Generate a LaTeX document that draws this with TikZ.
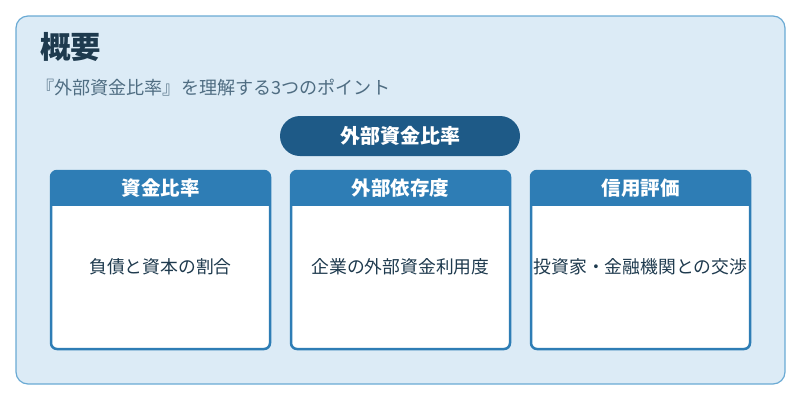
\documentclass[tikz,border=0pt]{standalone}
\usepackage{fontspec}
\setmainfont{Noto Sans CJK JP}
\begin{document}
\begin{tikzpicture}[x=1pt,y=-1pt,
  card/.style={draw=cardblue,line width=2.5pt,fill=white,rounded corners=6pt},
  head/.style={fill=cardblue,rounded corners=6pt},
  htext/.style={text=white,font=\fontsize{19.5}{23}\selectfont\bfseries},
  btext/.style={text=textdark,font=\fontsize{17.8}{21}\selectfont}]
\definecolor{bg}{HTML}{DCEBF6}
\definecolor{bord}{HTML}{6AAAD4}
\definecolor{cardblue}{HTML}{2E7DB5}
\definecolor{pill}{HTML}{1E5A87}
\definecolor{textdark}{HTML}{1E3A4E}
\definecolor{sub}{HTML}{4F6D82}
\useasboundingbox (0,0) rectangle (800,400);
\draw[fill=bg,draw=bord,line width=1.2pt,rounded corners=12pt] (16,16) rectangle (785,384);
\node[anchor=west,text=textdark,font=\fontsize{30.5}{36}\selectfont\bfseries,inner sep=0pt] (title) at (40,47) {概要};
\node[anchor=west,text=sub,font=\fontsize{18.1}{21}\selectfont,inner sep=0pt] (subtitle) at (36,88) {『外部資金比率』を理解する3つのポイント};
\node[fill=pill,rounded corners=20pt,minimum width=240pt,minimum height=40pt,text=white,font=\fontsize{20}{24}\selectfont\bfseries] (main) at (400,136) {外部資金比率};
\foreach \i/\x/\h/\b in {1/51/資金比率/負債と資本の割合,2/291/外部依存度/企業の外部資金利用度,3/531/信用評価/投資家・金融機関との交渉}{
  \draw[card] (\x,171) rectangle ++(219,178);
  \begin{scope}
  \clip[rounded corners=6pt] (\x,171) rectangle ++(219,178);
  \fill[cardblue] (\x,169) rectangle ++(219,37);
  \end{scope}
  \node[htext] (h\i) at (\x+109.5,188) {\h};
  \node[btext] (b\i) at (\x+109.5,267) {\b};
}
\end{tikzpicture}
\end{document}
